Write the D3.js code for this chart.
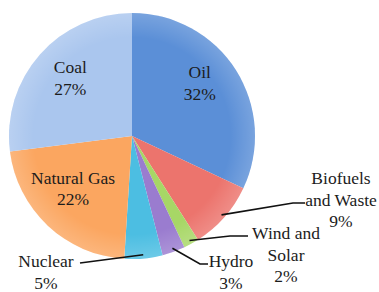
<!DOCTYPE html>
<html>
<head>
<meta charset="utf-8">
<script src="https://cdn.jsdelivr.net/npm/d3@7"></script>
<style>
  body { margin: 0; background: #fff; }
</style>
</head>
<body>
<div id="chart"></div>
<script>
// DATA (clockwise from 12 o'clock)
var sources = ['Oil', 'Biofuels and Waste', 'Wind and Solar', 'Hydro', 'Nuclear', 'Natural Gas', 'Coal'];
var shares  = [32, 9, 2, 3, 5, 22, 27];
var colours = ['#5b8fd7', '#ec746d', '#a7d766', '#9a7ccf', '#4cbee2', '#fba660', '#aac6ee'];

// label text, split in lines (the percentage is added as last line)
var labelLines = [
  ['Oil'], ['Biofuels', 'and Waste'], ['Wind and', 'Solar'], ['Hydro'],
  ['Nuclear'], ['Natural Gas'], ['Coal']
];

// SETUP
var width = 379, height = 292;
var cx = 132, cy = 136, radius = 123;

var svg = d3.select('#chart').append('svg')
    .attr('width', width)
    .attr('height', height);

var data = sources.map(function(s, i) {
  return { name: s, value: shares[i], colour: colours[i], lines: labelLines[i] };
});

var pie = d3.pie()
    .sort(null)
    .value(function(d) { return d.value; });

var arc = d3.arc()
    .innerRadius(0)
    .outerRadius(radius);

var arcs = pie(data);

// soft highlight like the office chart style
var defs = svg.append('defs');
var grad = defs.append('radialGradient')
    .attr('id', 'shine')
    .attr('gradientUnits', 'userSpaceOnUse')
    .attr('cx', 0).attr('cy', 0).attr('r', radius);
grad.append('stop').attr('offset', '0.8').attr('stop-color', '#fff').attr('stop-opacity', 0);
grad.append('stop').attr('offset', '1').attr('stop-color', '#fff').attr('stop-opacity', 0.18);

var g = svg.append('g')
    .attr('transform', 'translate(' + cx + ',' + cy + ')');

g.selectAll('path.slice')
  .data(arcs)
  .enter().append('path')
    .attr('class', 'slice')
    .attr('d', arc)
    .attr('fill', function(d) { return d.data.colour; });

g.append('circle')
    .attr('r', radius)
    .attr('fill', 'url(#shine)');

// LABELS
// inside labels for the big slices, outside (with leader lines) for the small ones
var fontSize = 17.5, lineH = 21.5;
var inside = {
  'Oil':         { r: 0.70, dx: -5, dy: -7 },
  'Coal':        { r: 0.69, dx: 2,  dy: -2 },
  'Natural Gas': { r: 0.64, dx: -5, dy: -5 }
};

// outside label placement: text centre + leader line points (relative to pie centre)
var outside = {
  'Biofuels and Waste': { x: 209, y: 42,  line: [[161, 67], [173, 67]] },
  'Wind and Solar':     { x: 154, y: 97,  line: [[98, 100], [116, 100]] },
  'Hydro':              { x: 99,  y: 125, line: [[68, 128], [76, 128]] },
  'Nuclear':            { x: -86, y: 125, line: [[-52, 127]] }
};

arcs.forEach(function(d) {
  var name = d.data.name;
  var lines = d.data.lines.concat([d.data.value + '%']);
  var mid = (d.startAngle + d.endAngle) / 2;
  var x, y;
  if (inside[name]) {
    var p = inside[name];
    x = Math.sin(mid) * radius * p.r + p.dx;
    y = -Math.cos(mid) * radius * p.r + p.dy;
    y -= (lines.length - 1) * lineH / 2;
  } else {
    var o = outside[name];
    x = o.x;
    y = o.y;
    // leader line starts just inside the slice rim
    var rr = radius * 0.97;
    var pts = [[Math.sin(mid) * rr, -Math.cos(mid) * rr]].concat(o.line);
    g.append('path')
        .attr('d', d3.line()(pts))
        .attr('fill', 'none')
        .attr('stroke', '#111')
        .attr('stroke-width', 1.6);
  }
  var t = g.append('text')
      .attr('text-anchor', 'middle')
      .style('font-family', "'Liberation Serif', 'DejaVu Serif', serif")
      .style('fill', '#1c1c1c')
      .style('font-size', fontSize + 'px');
  lines.forEach(function(l, i) {
    t.append('tspan')
        .attr('x', x)
        .attr('y', y + i * lineH)
        .attr('dy', '0.35em')
        .text(l);
  });
});
</script>
</body>
</html>
